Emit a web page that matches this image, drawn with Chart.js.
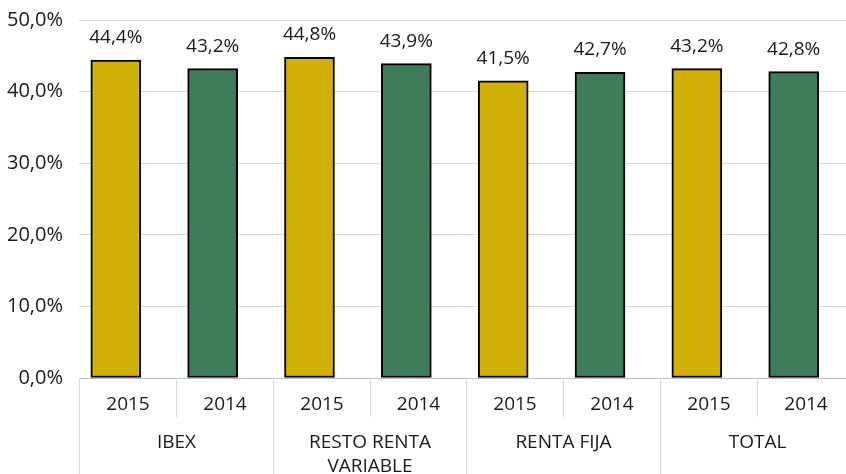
<!DOCTYPE html>
<html>
<head>
<meta charset="utf-8">
<script src="https://cdn.jsdelivr.net/npm/chart.js@4/dist/chart.umd.min.js"></script>
<style>
  html, body { margin: 0; padding: 0; background: #fff; }
  #wrap { width: 846px; height: 474px; position: relative; }
</style>
</head>
<body>
<div id="wrap"><canvas id="chart"></canvas></div>
<script>
// groups along the x axis, each split into two years
const groups = [["IBEX"], ["RESTO RENTA", "VARIABLE"], ["RENTA FIJA"], ["TOTAL"]]
const years = ["2015", "2014"]
const values2015 = [44.4, 44.8, 41.5, 43.2]
const values2014 = [43.2, 43.9, 42.7, 42.8]
const yTicks = [0, 10, 20, 30, 40, 50]

const YELLOW = "#D2B107"
const GREEN = "#3D7D5A"
const GRID = "#d9d9d9"
const TEXT = "#1a1a1a"
const FONT = "'Open Sans', 'Noto Sans', sans-serif"
const SIZE = 19

// the excel cells sit a bit to the right of the bars
const CELL_SHIFT = -0.38

const fmt = v => v.toFixed(1).replace(".", ",") + "%"

const labelsPlugin = {
  id: "labels",
  afterDatasetsDraw(chart) {
    const ctx = chart.ctx
    ctx.save()
    ctx.font = SIZE + "px " + FONT
    ctx.fillStyle = TEXT
    ctx.textAlign = "center"
    ctx.textBaseline = "alphabetic"
    chart.data.datasets.forEach((ds, i) => {
      chart.getDatasetMeta(i).data.forEach((bar, j) => {
        ctx.fillText(fmt(ds.data[j].y), bar.x, bar.y - 17)
      })
    })
    ctx.restore()
  },
  afterDraw(chart) {
    const ctx = chart.ctx
    const x = chart.scales.x
    const top = chart.chartArea.bottom
    const edge = i => Math.round(x.getPixelForValue(i + CELL_SHIFT)) + 0.5
    ctx.save()
    ctx.strokeStyle = GRID
    ctx.lineWidth = 1
    const n = groups.length * years.length
    for (let i = 0; i <= n; i++) {
      const full = i % years.length == 0
      ctx.beginPath()
      ctx.moveTo(edge(i), top)
      ctx.lineTo(edge(i), full ? chart.height : top + 39)
      ctx.stroke()
    }
    ctx.font = SIZE + "px " + FONT
    ctx.fillStyle = TEXT
    ctx.textAlign = "center"
    ctx.textBaseline = "alphabetic"
    for (let i = 0; i < n; i++) {
      ctx.fillText(years[i % years.length], (edge(i) + edge(i + 1)) / 2, top + 32)
    }
    groups.forEach((lines, g) => {
      const cx = (edge(g * 2) + edge(g * 2 + 2)) / 2
      lines.forEach((line, k) => ctx.fillText(line, cx, top + 70 + k * 24))
    })
    ctx.restore()
  }
}

new Chart(document.getElementById("chart"), {
  type: "bar",
  data: {
    datasets: [
      {
        label: years[0],
        data: values2015.map((v, g) => ({ x: g * 2, y: v })),
        backgroundColor: YELLOW,
      },
      {
        label: years[1],
        data: values2014.map((v, g) => ({ x: g * 2 + 1, y: v })),
        backgroundColor: GREEN,
      },
    ].map(d => ({ ...d, borderColor: "#000", borderWidth: 2, borderSkipped: false, barThickness: 50, grouped: false })),
  },
  options: {
    responsive: true,
    maintainAspectRatio: false,
    animation: false,
    layout: { padding: { top: 20, right: 0, left: 0, bottom: 0 } },
    plugins: { legend: { display: false }, tooltip: { enabled: false } },
    scales: {
      x: {
        type: "linear",
        offset: false,
        min: CELL_SHIFT,
        max: 7.54,
        grid: { display: false },
        border: { display: true, color: "#bfbfbf" },
        ticks: { display: false },
        afterFit: s => { s.height = 96; s.paddingLeft = 0; s.paddingRight = 0 },
      },
      y: {
        min: yTicks[0],
        max: yTicks[yTicks.length - 1],
        afterBuildTicks: s => { s.ticks = yTicks.map(v => ({ value: v })) },
        grid: { color: GRID, drawTicks: false },
        border: { display: false },
        ticks: { padding: 16, color: TEXT, font: { size: SIZE + 1, family: FONT }, callback: v => fmt(v) },
        afterFit: s => { s.width = 79; s.paddingTop = 0; s.paddingBottom = 0 },
      },
    },
  },
  plugins: [labelsPlugin],
})
</script>
</body>
</html>
